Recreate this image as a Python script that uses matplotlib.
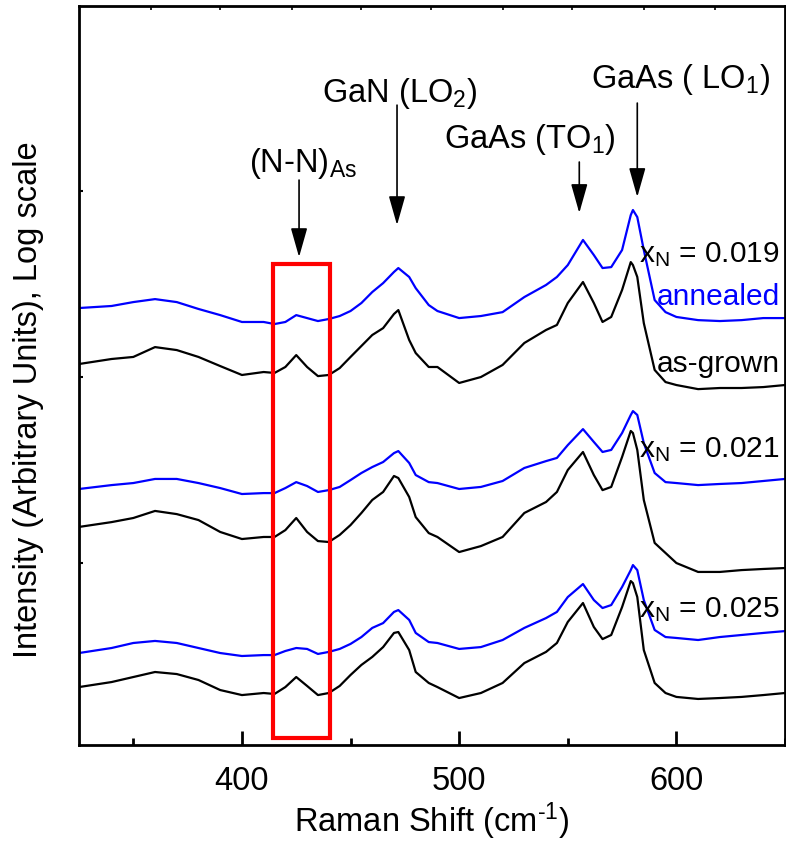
import numpy as np
import matplotlib
matplotlib.use("Agg")
import matplotlib.pyplot as plt
from matplotlib.patches import Rectangle

plt.rcParams['font.family'] = ['Liberation Sans', 'DejaVu Sans']
plt.rcParams['mathtext.fontset'] = 'custom'
plt.rcParams['mathtext.rm'] = 'Liberation Sans'
plt.rcParams['mathtext.it'] = 'Liberation Sans:italic'
plt.rcParams['mathtext.bf'] = 'Liberation Sans:bold'

# Raman shift (cm^-1)
shift = [325, 340, 350, 360, 370, 380, 390, 400, 410, 415, 420, 425, 430, 435, 440,
         445, 450, 455, 460, 465, 470, 472, 477, 480, 486, 490, 500, 510, 520, 530,
         540, 545, 550, 557, 562, 566, 570, 575, 579, 580, 582, 585, 590, 595, 600,
         610, 620, 630, 640, 650]

# log10 intensity (arbitrary units)
ann_019 = [2.371, 2.382, 2.403, 2.419, 2.403, 2.366, 2.333, 2.296, 2.296, 2.285,
           2.296, 2.333, 2.317, 2.301, 2.312, 2.328, 2.355, 2.398, 2.457, 2.505,
           2.565, 2.586, 2.538, 2.478, 2.387, 2.355, 2.317, 2.328, 2.349, 2.430,
           2.495, 2.538, 2.602, 2.737, 2.656, 2.586, 2.591, 2.683, 2.871, 2.898,
           2.860, 2.683, 2.414, 2.349, 2.323, 2.306, 2.301, 2.306, 2.317, 2.317]
grw_019 = [2.070, 2.097, 2.108, 2.161, 2.145, 2.108, 2.059, 2.011, 2.027, 2.022,
           2.054, 2.118, 2.054, 2.005, 2.011, 2.048, 2.108, 2.167, 2.226, 2.263,
           2.339, 2.360, 2.199, 2.129, 2.054, 2.054, 1.968, 2.000, 2.065, 2.183,
           2.253, 2.280, 2.398, 2.511, 2.398, 2.296, 2.323, 2.468, 2.618, 2.602,
           2.538, 2.290, 2.038, 1.973, 1.957, 1.935, 1.941, 1.941, 1.946, 1.957]
ann_021 = [1.398, 1.419, 1.430, 1.452, 1.452, 1.430, 1.403, 1.371, 1.376, 1.376,
           1.403, 1.435, 1.414, 1.382, 1.392, 1.409, 1.446, 1.484, 1.516, 1.543,
           1.591, 1.602, 1.538, 1.473, 1.435, 1.430, 1.398, 1.409, 1.441, 1.511,
           1.548, 1.565, 1.634, 1.720, 1.651, 1.597, 1.608, 1.699, 1.796, 1.817,
           1.796, 1.645, 1.484, 1.435, 1.430, 1.419, 1.425, 1.430, 1.441, 1.452]
grw_021 = [1.194, 1.220, 1.242, 1.280, 1.263, 1.231, 1.167, 1.129, 1.140, 1.140,
           1.177, 1.242, 1.167, 1.118, 1.113, 1.151, 1.204, 1.269, 1.339, 1.382,
           1.468, 1.457, 1.355, 1.247, 1.161, 1.140, 1.059, 1.091, 1.140, 1.269,
           1.328, 1.382, 1.500, 1.597, 1.473, 1.392, 1.409, 1.570, 1.710, 1.699,
           1.608, 1.339, 1.108, 1.054, 1.000, 0.952, 0.952, 0.962, 0.968, 0.973]
ann_025 = [0.516, 0.543, 0.570, 0.581, 0.570, 0.543, 0.516, 0.500, 0.505, 0.505,
           0.527, 0.543, 0.538, 0.511, 0.522, 0.538, 0.565, 0.602, 0.651, 0.677,
           0.737, 0.747, 0.694, 0.624, 0.575, 0.570, 0.538, 0.548, 0.586, 0.651,
           0.704, 0.737, 0.817, 0.887, 0.801, 0.758, 0.774, 0.871, 0.962, 0.989,
           0.962, 0.801, 0.640, 0.602, 0.597, 0.586, 0.602, 0.613, 0.624, 0.634]
grw_025 = [0.333, 0.360, 0.387, 0.414, 0.403, 0.371, 0.317, 0.290, 0.301, 0.296,
           0.333, 0.387, 0.339, 0.290, 0.301, 0.339, 0.398, 0.452, 0.495, 0.548,
           0.624, 0.629, 0.532, 0.414, 0.355, 0.333, 0.274, 0.301, 0.355, 0.462,
           0.522, 0.570, 0.683, 0.785, 0.656, 0.591, 0.613, 0.763, 0.903, 0.892,
           0.817, 0.532, 0.355, 0.301, 0.280, 0.269, 0.274, 0.280, 0.290, 0.301]

annealed = [ann_019, ann_021, ann_025]
as_grown = [grw_019, grw_021, grw_025]

fig = plt.figure(figsize=(7.86, 8.42), dpi=100)
ax = fig.add_axes([79/786, 1-745/842, 706/786, 739/842])

x = np.array(shift)
for a, g in zip(annealed, as_grown):
    ax.plot(x, 10**np.array(a), color='#0000ff', lw=1.6)
    ax.plot(x, 10**np.array(g), color='black', lw=1.6)

fs = 23.5
fs2 = 21.5
ax.set_yscale('log')
ax.set_xlim(325, 650)
ax.set_ylim(10**0.0215, 10**3.995)
ax.set_yticks([10, 100, 1000])
ax.yaxis.set_minor_locator(matplotlib.ticker.NullLocator())
ax.yaxis.set_major_formatter(matplotlib.ticker.NullFormatter())
ax.set_xticks([400, 500, 600])
ax.set_xticks([350, 450, 550, 650], minor=True)
ax.tick_params(axis='x', which='major', direction='in', length=10, width=2,
               labelsize=fs, pad=15)
ax.tick_params(axis='x', which='minor', direction='in', length=5, width=2)
ax.tick_params(axis='y', which='major', direction='in', length=3, width=1.5)
for sp in ax.spines.values():
    sp.set_linewidth(2)

# small ticks on the top spine
sec = ax.secondary_xaxis('top')
sec.set_xticks([358, 390, 423, 455, 487, 520, 552, 585, 618])
sec.tick_params(direction='in', length=3, width=1.2, labeltop=False)
sec.xaxis.set_major_formatter(matplotlib.ticker.NullFormatter())

ax.set_xlabel('Raman Shift (cm$^{\\mathregular{\\text{-}1}}$)', fontsize=fs, labelpad=3)
fig.text(29/786, 1-400/842, 'Intensity (Arbitrary Units), Log scale',
         rotation=90, ha='center', va='center', fontsize=fs)

# red box around (N-N)As mode
ax.add_patch(Rectangle((414.3, 10**0.059), 26.3, 10**2.608 - 10**0.059,
                       fill=False, edgecolor='#ff0000', lw=3, zorder=5))

arrow = dict(arrowstyle='-|>,head_length=0.6,head_width=0.17', color='black',
             lw=1.2, mutation_scale=30, shrinkA=0, shrinkB=0)
# arrows: (x, tail log10, tip log10)
for xa, t0, t1 in [(426.3, 3.059, 2.645), (471.4, 3.462, 2.817),
                   (555.3, 3.156, 2.882), (582.0, 3.473, 2.968)]:
    ax.annotate('', xy=(xa, 10**t1), xytext=(xa, 10**t0), arrowprops=arrow)

ax.text(428.1, 10**3.102, '(N-N)$_{\\mathregular{As}}$', ha='center', va='baseline', fontsize=fs)
ax.text(472.4, 10**3.478, 'GaN (LO$_{\\mathregular{2}}$)', ha='center', va='baseline', fontsize=fs)
ax.text(532.3, 10**3.231, 'GaAs (TO$_{\\mathregular{1}}$)', ha='center', va='baseline', fontsize=fs)
ax.text(602.1, 10**3.554, 'GaAs ( LO$_{\\mathregular{1}}$)', ha='center', va='baseline', fontsize=fs)

xr = 647.5
ax.text(xr, 10**2.618, 'x$_{\\mathregular{N}}$ = 0.019', ha='right', va='baseline', fontsize=fs2)
ax.text(xr, 10**2.387, 'annealed', ha='right', va='baseline', fontsize=fs2, color='#0000ff')
ax.text(xr, 10**2.027, 'as-grown', ha='right', va='baseline', fontsize=fs2)
ax.text(xr, 10**1.570, 'x$_{\\mathregular{N}}$ = 0.021', ha='right', va='baseline', fontsize=fs2)
ax.text(xr, 10**0.710, 'x$_{\\mathregular{N}}$ = 0.025', ha='right', va='baseline', fontsize=fs2)

fig.savefig('out.png', dpi=100)
